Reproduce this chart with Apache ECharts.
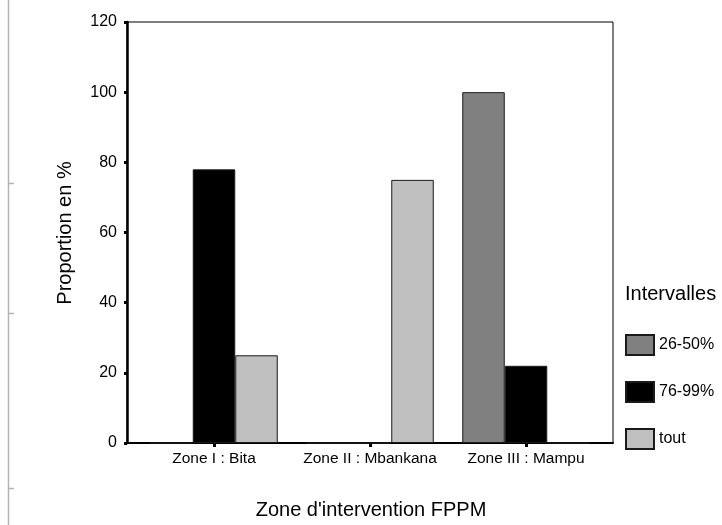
<!DOCTYPE html>
<html>
<head>
<meta charset="utf-8">
<script src="https://cdn.jsdelivr.net/npm/echarts@6/dist/echarts.min.js"></script>
<style>
  html, body { margin: 0; padding: 0; background: #fff; }
  #chart { width: 722px; height: 525px; }
</style>
</head>
<body>
<div id="chart"></div>
<script>
// Zones d'intervention and share of each interval (%)
const zones = ['Zone I : Bita', 'Zone II : Mbankana', 'Zone III : Mampu'];
const seriesNames = ['26-50%', '76-99%', 'tout'];
const values2650 = [0, 0, 100];
const values7699 = [78, 0, 22];
const valuesTout = [25, 75, 0];
const yTicks = { min: 0, max: 120, step: 20 };
const seriesColors = ['#808080', '#000000', '#c0c0c0'];

const FONT = '"Liberation Sans", Arial, sans-serif';
const chart = echarts.init(document.getElementById('chart'), null, { renderer: 'canvas' });

const seriesData = [values2650, values7699, valuesTout];

const option = {
  animation: false,
  backgroundColor: '#ffffff',
  grid: [
    // framed plot area carrying the value axis
    { left: 127, top: 22, width: 486, height: 421, show: true, borderColor: '#000', borderWidth: 1, backgroundColor: 'transparent' },
    // inner band for the grouped bars
    { left: 136, top: 22, width: 468, height: 421 }
  ],
  xAxis: [
    { gridIndex: 0, type: 'value', min: 0, max: 1, axisLine: { show: true, onZero: false, lineStyle: { color: '#000', width: 2 } },
      axisTick: { show: false }, axisLabel: { show: false }, splitLine: { show: false } },
    { gridIndex: 1, type: 'category', data: zones, boundaryGap: true,
      axisLine: { show: false },
      axisTick: { show: true, alignWithLabel: true, interval: 0, length: 4, lineStyle: { color: '#000', width: 3 } },
      axisLabel: { interval: 0, color: '#000', fontFamily: FONT, fontSize: 15.5, margin: 8 } }
  ],
  yAxis: [
    { gridIndex: 0, type: 'value', min: yTicks.min, max: yTicks.max, interval: yTicks.step,
      axisLine: { show: true, lineStyle: { color: '#000', width: 2.5 } },
      axisTick: { show: true, length: 3, lineStyle: { color: '#000', width: 3 } },
      axisLabel: { color: '#000', fontFamily: FONT, fontSize: 16, margin: 10 },
      splitLine: { show: false } },
    { gridIndex: 1, type: 'value', min: yTicks.min, max: yTicks.max, interval: yTicks.step, show: false }
  ],
  legend: {
    orient: 'vertical', left: 625, top: 334, padding: 0,
    itemWidth: 28, itemHeight: 20, itemGap: 25,
    icon: 'rect',
    data: seriesNames,
    textStyle: { color: '#000', fontFamily: FONT, fontSize: 16 }
  },
  series: seriesNames.map((name, i) => ({
    name: name,
    type: 'bar',
    xAxisIndex: 1, yAxisIndex: 1,
    data: seriesData[i],
    barWidth: 42.5,
    barGap: '0%',
    itemStyle: { color: seriesColors[i], borderColor: '#1a1a1a', borderWidth: 1 }
  })),
  graphic: [
    { type: 'text', left: 625, top: 284,
      style: { text: 'Intervalles', fill: '#000', font: '20px ' + FONT } },
    { type: 'text', x: 65, y: 233, rotation: Math.PI / 2,
      style: { text: 'Proportion en %', fill: '#000', font: '20px ' + FONT, align: 'center', verticalAlign: 'middle' } },
    { type: 'text', x: 371, y: 510,
      style: { text: "Zone d'intervention FPPM", fill: '#000', font: '20px ' + FONT, align: 'center', verticalAlign: 'middle' } },
    // page ruler on the left edge
    { type: 'line', shape: { x1: 8.5, y1: 0, x2: 8.5, y2: 525 }, style: { stroke: '#b4b4b4', lineWidth: 1.5 } },
    { type: 'line', shape: { x1: 8, y1: 183.5, x2: 14, y2: 183.5 }, style: { stroke: '#b4b4b4', lineWidth: 1.5 } },
    { type: 'line', shape: { x1: 8, y1: 313.5, x2: 14, y2: 313.5 }, style: { stroke: '#b4b4b4', lineWidth: 1.5 } },
    { type: 'line', shape: { x1: 8, y1: 488.5, x2: 14, y2: 488.5 }, style: { stroke: '#b4b4b4', lineWidth: 1.5 } }
  ]
};

chart.setOption(option);
</script>
</body>
</html>
